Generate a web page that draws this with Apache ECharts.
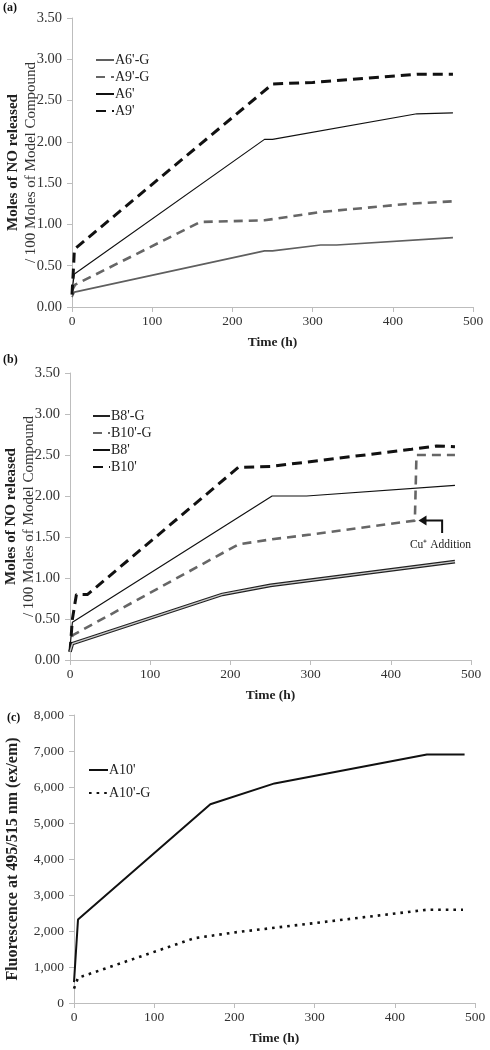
<!DOCTYPE html>
<html>
<head>
<meta charset="utf-8">
<script src="https://cdn.jsdelivr.net/npm/echarts@6/dist/echarts.min.js"></script>
<style>html,body{margin:0;padding:0;background:#fff}#c{width:490px;height:1050px}</style>
</head>
<body>
<div id="c"></div>
<script>
// ---- Panel (a) data: [time h, moles NO / 100 moles] ----
const a6G = [[0,0.12],[3,0.18],[240,0.68],[250,0.68],[310,0.75],[330,0.75],[475,0.84]];
const a9G = [[0,0.20],[4,0.27],[160,1.03],[240,1.05],[310,1.15],[420,1.25],[475,1.28]];
const a6  = [[0,0.20],[3,0.40],[240,2.03],[250,2.03],[430,2.34],[475,2.35]];
const a9  = [[0,0.15],[2,0.50],[3,0.70],[250,2.70],[300,2.72],[430,2.82],[475,2.82]];
// ---- Panel (b) data ----
const b8G  = [[0,0.10],[3,0.20],[190,0.80],[250,0.91],[480,1.20]];
const b10G = [[0,0.10],[3,0.30],[210,1.41],[250,1.47],[300,1.53],[430,1.70],[432,2.50],[480,2.50]];
const b8   = [[0,0.15],[3,0.46],[252,2.00],[295,2.00],[480,2.13]];
const b10  = [[0,0.10],[3,0.50],[8,0.80],[22,0.80],[210,2.35],[250,2.36],[426,2.57],[457,2.61],[480,2.60]];
// ---- Panel (c) data: fluorescence ----
const a10  = [[0,580],[5,2320],[170,5520],[250,6100],[440,6900],[487,6900]];
const a10G = [[0,400],[5,700],[150,1800],[200,1960],[300,2220],[440,2590],[485,2590]];
// ---- labels ----
const panelLabels = ['(a)','(b)','(c)'];
const xTitle = 'Time (h)';
const yTitleBold = 'Moles of NO released';
const yTitleReg = '/ 100 Moles of Model Compound';
const yTitleC = 'Fluorescence at 495/515 nm (ex/em)';
const cuLabel = 'Cu\u207A Addition';
const cuPoint = [437, 1.70];

const FONT = '"Liberation Serif", "Times New Roman", serif';
const axisGray = '#bdbdbd';
const txt = '#333';

function xAxis(gi){
  return {gridIndex:gi,type:'value',min:0,max:500,interval:100,
    name:xTitle,nameLocation:'middle',nameGap:29,nameMoveOverlap:false,
    nameTextStyle:{fontFamily:FONT,fontWeight:'bold',fontSize:13.5,color:'#222'},
    axisLine:{lineStyle:{color:axisGray}},axisTick:{show:true,length:5,lineStyle:{color:axisGray}},
    axisLabel:{fontFamily:FONT,fontSize:13.5,color:txt,margin:7},splitLine:{show:false}};
}
function yAxisMoles(gi){
  return {gridIndex:gi,type:'value',min:0,max:3.5,interval:0.5,
    name:'{b|'+yTitleBold+'}\n{r|'+yTitleReg+'}',nameLocation:'middle',nameGap:32,nameRotate:90,nameMoveOverlap:false,
    nameTextStyle:{rich:{b:{fontFamily:FONT,fontWeight:'bold',fontSize:15,color:'#222',lineHeight:18},
                         r:{fontFamily:FONT,fontSize:15,color:'#333',lineHeight:18}}},
    axisLine:{show:true,lineStyle:{color:axisGray}},axisTick:{show:true,length:5,lineStyle:{color:axisGray}},
    axisLabel:{fontFamily:FONT,fontSize:14.5,color:txt,margin:10,formatter:v=>v.toFixed(2)},splitLine:{show:false}};
}
function line(name,data,gi,color,width,type,z){
  return {name,type:'line',xAxisIndex:gi,yAxisIndex:gi,data,symbol:'none',showSymbol:false,z:z||2,
    lineStyle:{color,width,type:type||'solid'},itemStyle:{color},emphasis:{disabled:true}};
}
const legTxt = {fontFamily:FONT,fontSize:14,color:'#222',padding:[0,0,0,-4]};
const legBase = {orient:'vertical',itemHeight:10,selectedMode:false,padding:0,
  textStyle:legTxt,itemStyle:{opacity:0}};

const chart = echarts.init(document.getElementById('c'),null,{renderer:'canvas'});
const option = {
  animation:false,
  backgroundColor:'#fff',
  grid:[
    {left:72,top:18,width:401,height:289,outerBoundsMode:'none',containLabel:false},
    {left:70,top:373,width:401,height:287,outerBoundsMode:'none',containLabel:false},
    {left:74,top:715,width:401,height:288,outerBoundsMode:'none',containLabel:false}
  ],
  xAxis:[xAxis(0),xAxis(1),xAxis(2)],
  yAxis:[yAxisMoles(0),yAxisMoles(1),
    {gridIndex:2,type:'value',min:0,max:8000,interval:1000,
     name:yTitleC,nameLocation:'middle',nameGap:53,nameRotate:90,nameMoveOverlap:false,
     nameTextStyle:{fontFamily:FONT,fontWeight:'bold',fontSize:16,color:'#222'},
     axisLine:{show:true,lineStyle:{color:axisGray}},axisTick:{show:true,length:5,lineStyle:{color:axisGray}},
     axisLabel:{fontFamily:FONT,fontSize:13.5,color:txt,margin:10,formatter:v=>v.toLocaleString('en-US')},splitLine:{show:false}}],
  legend:[
    Object.assign({},legBase,{data:["A6'-G","A9'-G","A6'","A9'"],left:95,top:53,itemWidth:18,itemGap:3}),
    Object.assign({},legBase,{data:["B8'-G","B10'-G","B8'","B10'"],left:92,top:409,itemWidth:17,itemGap:3}),
    Object.assign({},legBase,{data:["A10'","A10'-G"],left:88,top:763,itemWidth:19,itemGap:9})
  ],
  series:[
    line("A6'-G",a6G,0,'#5f5f5f',1.6),
    line("A9'-G",a9G,0,'#666',2.6,[9,6]),
    line("A6'",a6,0,'#111',1.2),
    line("A9'",a9,0,'#111',3,[10,6]),
    line("B8'-G",b8G,1,'#222',3.6,'solid',2),
    line("B8'-G",b8G,1,'#c8c8c8',1.4,'solid',3),
    line("B10'-G",b10G,1,'#666',2.6,[9,6]),
    line("B8'",b8,1,'#111',1.2),
    line("B10'",b10,1,'#111',3,[10,6]),
    line("A10'",a10,2,'#111',2),
    line("A10'-G",a10G,2,'#111',2.6,[2.6,5])
  ]
};
chart.setOption(option);

// annotations positioned from data coordinates
const head = chart.convertToPixel({gridIndex:1},cuPoint);
const corner = chart.convertToPixel({gridIndex:1},[cuPoint[0]+27,cuPoint[1]]);
const tail = chart.convertToPixel({gridIndex:1},[cuPoint[0]+27,cuPoint[1]-0.15]);
const lbl = chart.convertToPixel({gridIndex:1},[cuPoint[0]+25,cuPoint[1]-0.30]);
const graphics = [];
panelLabels.forEach((t,i)=>{
  const ys=[2,354,712], xs=[3,3,7];
  graphics.push({type:'text',left:xs[i],top:ys[i],style:{text:t,font:'bold 12px '+FONT,fill:'#111'}});
});
graphics.push({type:'polyline',shape:{points:[[tail[0],tail[1]],[corner[0],corner[1]],[head[0]+1,head[1]]]},
  style:{stroke:'#111',lineWidth:2,fill:null}});
graphics.push({type:'polygon',shape:{points:[[head[0]-2,head[1]],[head[0]+6,head[1]-5],[head[0]+6,head[1]+5]]},
  style:{fill:'#111'}});
graphics.push({type:'text',x:lbl[0],y:lbl[1],style:{text:cuLabel,font:'11.5px '+FONT,fill:'#222',align:'center',verticalAlign:'middle'}});
chart.setOption({graphic:graphics});
</script>
</body>
</html>
